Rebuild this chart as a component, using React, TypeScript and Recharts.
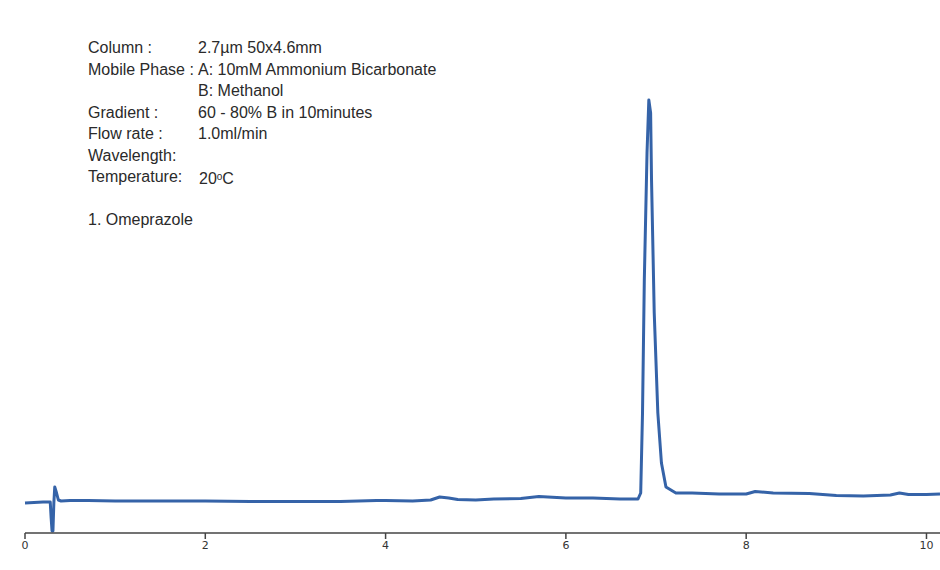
import { LineChart, Line, XAxis, YAxis } from 'recharts'

// retention time (min)
const times = [
  0, 0.1, 0.2, 0.28, 0.29, 0.3, 0.31, 0.32, 0.33, 0.35, 0.37, 0.4, 0.5, 0.7, 1.0, 1.5, 2.0, 2.5,
  3.0, 3.5, 3.9, 4.0, 4.3, 4.5, 4.6, 4.7, 4.8, 5.0, 5.2, 5.5, 5.7, 5.8, 6.0, 6.3, 6.6, 6.8,
  6.83, 6.85, 6.87, 6.9, 6.92, 6.94, 6.95, 6.98, 7.02, 7.06, 7.11, 7.22, 7.4, 7.7, 8.0, 8.1,
  8.3, 8.7, 9.0, 9.3, 9.6, 9.7, 9.8, 10.0, 10.15,
]

// detector signal (arbitrary units)
const signal = [
  30, 30.5, 31, 31, 15, 2, 2, 30, 46, 40, 33, 32, 32.5, 32.5, 32, 32, 32, 31.5,
  31.5, 31.5, 32.5, 32.5, 32, 33, 36, 35, 33.5, 33, 34, 34.5, 36.5, 36, 35, 35, 34, 34,
  40, 120, 253, 380, 433, 420, 353, 220, 120, 70, 46, 40, 40, 39, 39, 41.5,
  40, 39.5, 37.5, 37, 38, 40, 38.5, 38.5, 39,
]

const xTicks = [0, 2, 4, 6, 8, 10]

const conditions = [
  { label: 'Column :', value: '2.7µm 50x4.6mm' },
  { label: 'Mobile Phase :', value: 'A: 10mM Ammonium Bicarbonate' },
  { label: '', value: 'B: Methanol' },
  { label: 'Gradient :', value: '60 - 80% B in 10minutes' },
  { label: 'Flow rate :', value: '1.0ml/min' },
  { label: 'Wavelength:', value: '' },
]

const data = times.map((t, i) => ({ t, v: signal[i] }))

export default function App() {
  const rowStyle = { position: 'absolute' as const, left: 0, whiteSpace: 'nowrap' as const }
  return (
    <div style={{ position: 'absolute', left: 0, top: 0, width: 940, height: 570, background: '#fff' }}>
      <LineChart width={940} height={570} data={data} margin={{ top: 13, right: 0, left: 25, bottom: 0 }}>
        <XAxis
          dataKey="t"
          type="number"
          domain={[0, 10.15]}
          ticks={xTicks}
          height={37}
          axisLine={{ stroke: '#444', strokeWidth: 1.5 }}
          tickLine={{ stroke: '#444', strokeWidth: 1.5 }}
          tickSize={6}
          tick={{ fill: '#333', fontSize: 11, fontFamily: 'DejaVu Sans' }}
        />
        <YAxis
          type="number"
          domain={[0, 520]}
          width={0}
          tick={false}
          tickLine={false}
          axisLine={{ stroke: '#444', strokeWidth: 1.5 }}
        />
        <Line
          type="linear"
          dataKey="v"
          stroke="#3563a8"
          strokeWidth={3}
          dot={false}
          isAnimationActive={false}
          strokeLinejoin="round"
        />
      </LineChart>
      <div
        style={{
          position: 'absolute',
          left: 88,
          top: 39,
          fontFamily: 'Liberation Sans, Arial, sans-serif',
          fontSize: 16,
          lineHeight: '18px',
          color: '#2a2a2a',
        }}
      >
        {conditions.map((c, i) => (
          <div key={i} style={{ ...rowStyle, top: i * 21.5 }}>
            {c.label && <span style={{ position: 'absolute', left: 0 }}>{c.label}</span>}
            <span style={{ position: 'absolute', left: 110 }}>{c.value}</span>
          </div>
        ))}
        <div style={{ ...rowStyle, top: 6 * 21.5 }}>
          <span style={{ position: 'absolute', left: 0 }}>Temperature:</span>
          <span style={{ position: 'absolute', left: 111 }}>
            20<span style={{ fontSize: 10, verticalAlign: 4 }}>o</span>C
          </span>
        </div>
        <div style={{ ...rowStyle, top: 8 * 21.5 }}>1. Omeprazole</div>
      </div>
    </div>
  )
}
